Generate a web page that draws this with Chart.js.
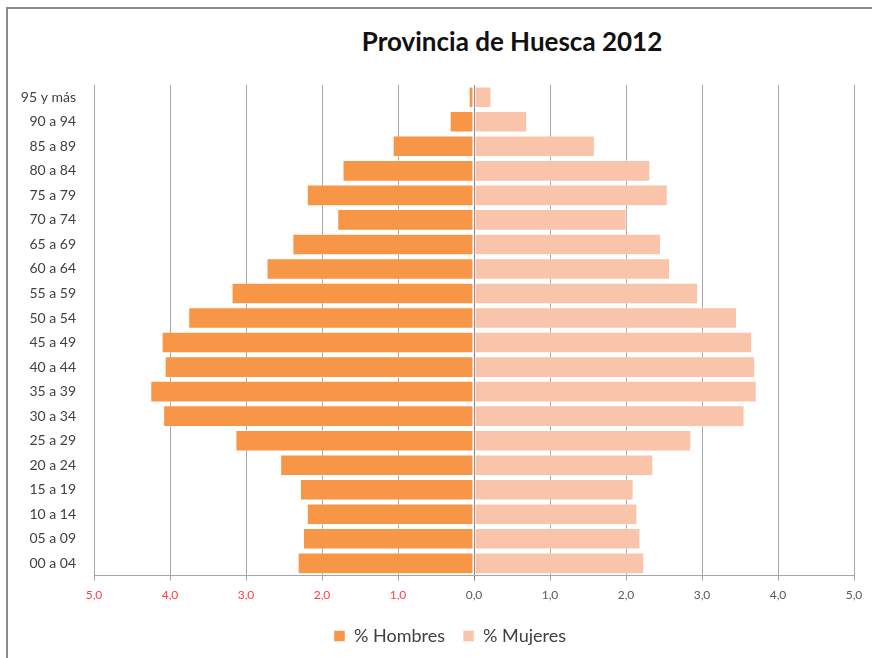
<!DOCTYPE html>
<html lang="es">
<head>
    <meta charset="UTF-8">
    <title>Provincia de Huesca 2012</title>
    <script src="https://cdn.jsdelivr.net/npm/chart.js"></script>
    <style>
        body { margin: 0; background: #fff; }
        .wrap { position: relative; width: 872px; height: 658px; overflow: hidden; }
        .frame {
            position: absolute; left: 6px; top: 7px; width: 900px; height: 700px;
            border-left: 2px solid #8c8c8c; border-top: 2px solid #8c8c8c;
            pointer-events: none;
        }
        .title {
            position: absolute; left: 312px; width: 400px; top: 25px;
            text-align: center; font: bold 26px Lato, sans-serif; color: #111;
        }
        canvas { position: absolute; left: 0; top: 0; }
    </style>
</head>
<body>
<div class="wrap">
    <div class="frame"></div>
    <div class="title">Provincia de Huesca 2012</div>
    <canvas id="pyramid" width="872" height="658"></canvas>
</div>
<script>
    // age groups, youngest first
    const ageGroups = ['00 a 04', '05 a 09', '10 a 14', '15 a 19', '20 a 24', '25 a 29', '30 a 34',
        '35 a 39', '40 a 44', '45 a 49', '50 a 54', '55 a 59', '60 a 64', '65 a 69', '70 a 74',
        '75 a 79', '80 a 84', '85 a 89', '90 a 94', '95 y más'];
    // % of population, men drawn to the left
    const hombres = [2.32, 2.25, 2.20, 2.29, 2.55, 3.14, 4.09, 4.26, 4.07, 4.11, 3.76, 3.19,
        2.73, 2.39, 1.80, 2.20, 1.73, 1.07, 0.32, 0.07];
    const mujeres = [2.24, 2.19, 2.15, 2.10, 2.36, 2.86, 3.56, 3.72, 3.70, 3.66, 3.46, 2.95,
        2.58, 2.46, 2.01, 2.55, 2.32, 1.59, 0.70, 0.23];
    const xTicks = [-5, -4, -3, -2, -1, 0, 1, 2, 3, 4, 5];

    const font = 'Lato, sans-serif';

    // the left layout padding centres the legend like the original;
    // widen the y axis box afterwards so its labels are not clipped
    const unclipLabels = {
        id: 'unclipLabels',
        afterLayout: chart => { chart.scales.y.left = 0; }
    };

    new Chart(document.getElementById('pyramid'), {
        type: 'bar',
        data: {
            labels: ageGroups,
            datasets: [{
                label: '% Hombres',
                data: hombres.map(v => -v),
                backgroundColor: '#F79646',
                borderColor: 'rgba(255,255,255,0.5)',
                borderWidth: 1,
                borderSkipped: false
            }, {
                label: '% Mujeres',
                data: mujeres,
                backgroundColor: '#F9C4A9',
                borderColor: 'rgba(255,255,255,0.5)',
                borderWidth: 1,
                borderSkipped: false
            }]
        },
        options: {
            indexAxis: 'y',
            responsive: false,
            animation: false,
            barPercentage: 0.88,
            categoryPercentage: 1,
            layout: { padding: { left: 46, right: 18, top: 85, bottom: 3 } },
            scales: {
                x: {
                    stacked: true,
                    min: -5,
                    max: 5,
                    afterBuildTicks: axis => { axis.ticks = xTicks.map(v => ({ value: v })); },
                    grid: {
                        color: ctx => ctx.tick && ctx.tick.value === 0 ? '#7f7f7f' : '#a6a6a6',
                        tickLength: 5
                    },
                    border: { color: '#a6a6a6' },
                    ticks: {
                        padding: 7,
                        maxRotation: 0,
                        font: { family: font, size: 12 },
                        color: ctx => ctx.tick.value < 0 ? '#ff4040' : '#595959',
                        callback: v => Math.abs(v).toFixed(1).replace('.', ',')
                    }
                },
                y: {
                    stacked: true,
                    reverse: true,
                    grid: { display: false },
                    border: { display: false },
                    afterFit: axis => { axis.width = 48; },
                    ticks: {
                        padding: 10,
                        font: { family: font, size: 14 },
                        color: '#404040'
                    }
                }
            },
            plugins: {
                title: { display: false },
                tooltip: { enabled: false },
                legend: {
                    position: 'bottom',
                    labels: {
                        boxWidth: 11,
                        boxHeight: 11,
                        padding: 18,
                        color: '#404040',
                        font: { family: font, size: 18 }
                    }
                }
            }
        },
        plugins: [unclipLabels]
    });
</script>
</body>
</html>
